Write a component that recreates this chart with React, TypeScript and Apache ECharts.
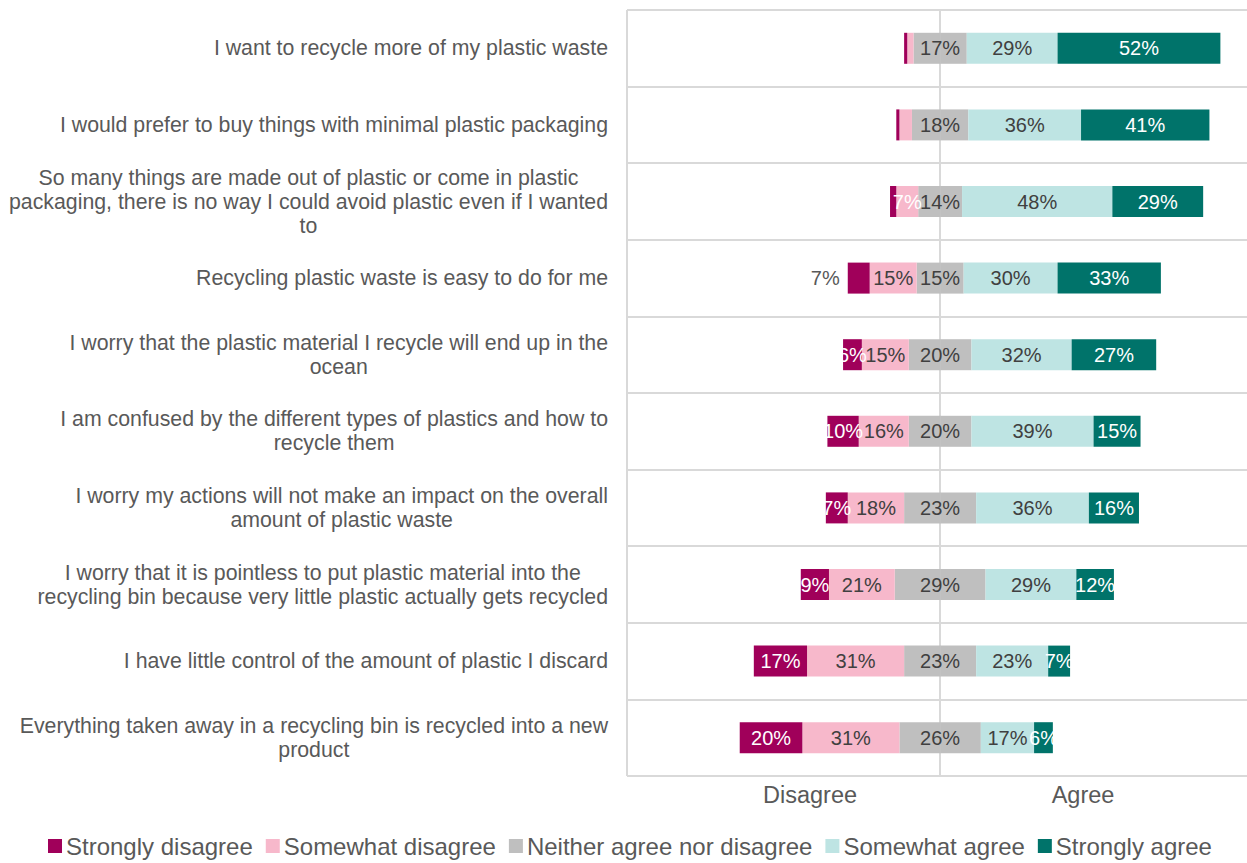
import React, { useEffect, useRef } from "react";
import * as echarts from "echarts";

const categories = [
  "I want to recycle more of my plastic waste",
  "I would prefer to buy things with minimal plastic packaging",
  "So many things are made out of plastic or come in plastic\npackaging, there is no way I could avoid plastic even if I wanted\nto",
  "Recycling plastic waste is easy to do for me",
  "I worry that the plastic material I recycle will end up in the\nocean",
  "I am confused by the different types of plastics and how to\nrecycle them",
  "I worry my actions will not make an impact on the overall\namount of plastic waste",
  "I worry that it is pointless to put plastic material into the\nrecycling bin because very little plastic actually gets recycled",
  "I have little control of the amount of plastic I discard",
  "Everything taken away in a recycling bin is recycled into a new\nproduct",
];

const stronglyDisagree = [1, 1, 2, 7, 6, 10, 7, 9, 17, 20];
const somewhatDisagree = [2, 4, 7, 15, 15, 16, 18, 21, 31, 31];
const neither = [17, 18, 14, 15, 20, 20, 23, 29, 23, 26];
const somewhatAgree = [29, 36, 48, 30, 32, 39, 36, 29, 23, 17];
const stronglyAgree = [52, 41, 29, 33, 27, 15, 16, 12, 7, 6];

const seriesNames = [
  "Strongly disagree",
  "Somewhat disagree",
  "Neither agree nor disagree",
  "Somewhat agree",
  "Strongly agree",
];
const sideLabels = ["Disagree", "Agree"];

const COLORS = {
  sd: "#A0005A",
  d: "#F7B8CB",
  n: "#BFBFBF",
  a: "#BEE4E3",
  sa: "#00736A",
};
const TEXT = "#595959";
const DARK = "#404040";
const GRID = "#D9D9D9";
const FONT = "Liberation Sans, Arial, sans-serif";

export default function App() {
  const ref = useRef<HTMLDivElement>(null);

  useEffect(() => {
    if (!ref.current) return;
    const chart = echarts.init(ref.current, undefined, { renderer: "svg" });

    const labelBase = {
      show: true,
      fontSize: 20,
      fontFamily: FONT,
    };

    const mk = (vals: number[], sign: number, overrides?: (i: number) => any) =>
      vals.map((v, i) => {
        const item: any = { value: sign * v };
        if (v < 5) item.label = { show: false };
        if (overrides) {
          const o = overrides(i);
          if (o) item.label = { ...(item.label || {}), ...o };
        }
        return item;
      });

    const fmt = (arr: number[]) => (p: any) => arr[p.dataIndex] + "%";

    const sideText = (text: string, x: number) => ({
      type: "text",
      x,
      y: 795,
      style: {
        text,
        fontSize: 23.5,
        fill: TEXT,
        align: "center",
        verticalAlign: "middle",
        fontFamily: FONT,
      },
    });

    const option: any = {
      animation: false,
      textStyle: { fontFamily: FONT },
      grid: { left: 627, top: 10, right: 0, bottom: 87, containLabel: false },
      xAxis: {
        type: "value",
        min: -100,
        max: 98,
        interval: 100,
        axisLabel: { show: false },
        axisLine: { show: false },
        axisTick: { show: false },
        splitLine: {
          show: true,
          showMaxLine: false,
          lineStyle: { color: GRID, width: 2 },
        },
      },
      yAxis: {
        type: "category",
        inverse: true,
        data: categories,
        axisLine: { show: false },
        axisTick: { show: false },
        splitLine: { show: true, lineStyle: { color: GRID, width: 2 } },
        axisLabel: {
          margin: 19,
          fontSize: 21.3,
          color: TEXT,
          lineHeight: 24,
          formatter: (v: string) =>
            v
              .split("\n")
              .map((l) => "{c|" + l + "}")
              .join("\n"),
          rich: {
            c: {
              align: "center",
              fontSize: 21.3,
              color: TEXT,
              lineHeight: 24,
              fontFamily: FONT,
            },
          },
        },
      },
      legend: {
        data: seriesNames,
        left: 48,
        top: 834,
        padding: 0,
        icon: "rect",
        itemWidth: 14,
        itemHeight: 14,
        itemGap: 13,
        textStyle: { fontSize: 24, color: TEXT, padding: [0, 0, 0, -1] },
      },
      graphic: [sideText(sideLabels[0], 810), sideText(sideLabels[1], 1083)],
      series: [
        {
          name: seriesNames[2],
          type: "bar",
          stack: "total",
          barWidth: 31,
          itemStyle: { color: COLORS.n },
          label: { show: false },
          data: neither.map((v) => -v / 2),
        },
        {
          name: seriesNames[1],
          type: "bar",
          stack: "total",
          barWidth: 31,
          itemStyle: { color: COLORS.d },
          label: { ...labelBase, color: DARK, formatter: fmt(somewhatDisagree) },
          data: mk(somewhatDisagree, -1, (i) =>
            i === 2 ? { color: "#FFFFFF" } : null
          ),
        },
        {
          name: seriesNames[0],
          type: "bar",
          stack: "total",
          barWidth: 31,
          itemStyle: { color: COLORS.sd },
          label: { ...labelBase, color: "#FFFFFF", formatter: fmt(stronglyDisagree) },
          data: mk(stronglyDisagree, -1, (i) =>
            i === 3 ? { position: "left", distance: 8, color: TEXT } : null
          ),
        },
        {
          name: seriesNames[2],
          type: "bar",
          stack: "total",
          barWidth: 31,
          itemStyle: { color: COLORS.n },
          label: {
            ...labelBase,
            color: DARK,
            position: [0, "50%"],
            align: "center",
            verticalAlign: "middle",
            formatter: fmt(neither),
          },
          data: neither.map((v) => v / 2),
        },
        {
          name: seriesNames[3],
          type: "bar",
          stack: "total",
          barWidth: 31,
          itemStyle: { color: COLORS.a },
          label: { ...labelBase, color: DARK, formatter: fmt(somewhatAgree) },
          data: mk(somewhatAgree, 1),
        },
        {
          name: seriesNames[4],
          type: "bar",
          stack: "total",
          barWidth: 31,
          itemStyle: { color: COLORS.sa },
          label: { ...labelBase, color: "#FFFFFF", formatter: fmt(stronglyAgree) },
          data: mk(stronglyAgree, 1),
        },
      ],
    };

    chart.setOption(option);
    return () => chart.dispose();
  }, []);

  return (
    <div
      ref={ref}
      style={{ position: "absolute", left: 0, top: 0, width: 1247, height: 863 }}
    />
  );
}
